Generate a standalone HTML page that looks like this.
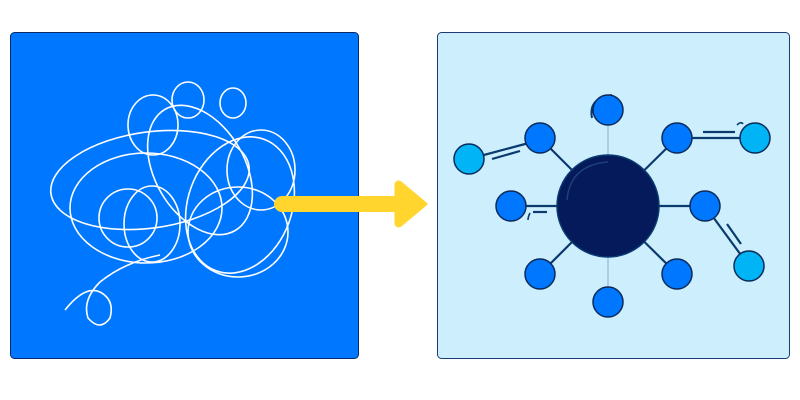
<!DOCTYPE html>
<html><head><style>html,body{margin:0;padding:0;background:#fff;width:800px;height:400px;overflow:hidden}</style></head>
<body>
<svg width="800" height="400" viewBox="0 0 800 400" xmlns="http://www.w3.org/2000/svg">
<rect x="10.5" y="32.5" width="348" height="326" rx="4" fill="#0077ff" stroke="#0a2a6a" stroke-width="1"/>
<rect x="437.5" y="32.5" width="352" height="326" rx="4" fill="#cdeefd" stroke="#1a3a7a" stroke-width="1"/>
<g fill="none" stroke="#fff" stroke-width="1.6">
<ellipse cx="153" cy="125" rx="25" ry="30"/>
<ellipse cx="188" cy="100" rx="16" ry="18"/>
<ellipse cx="233" cy="103" rx="13" ry="15"/>
<ellipse cx="150" cy="180" rx="100" ry="48" transform="rotate(-8 150 180)"/>
<ellipse cx="128" cy="218" rx="29" ry="29"/>
<ellipse cx="152" cy="224" rx="28" ry="38"/>
<ellipse cx="261" cy="170" rx="34" ry="40"/>
<ellipse cx="238" cy="232" rx="50" ry="45"/>
<ellipse cx="146" cy="208" rx="76" ry="55"/>
<ellipse cx="200" cy="170" rx="45" ry="70" transform="rotate(-30 200 170)"/>
<ellipse cx="240" cy="205" rx="52" ry="70" transform="rotate(20 240 205)"/>
<path d="M65 310 Q85 285 100 292 Q115 300 110 318 Q100 332 88 318 Q82 300 100 282 Q125 262 160 255"/>
</g>
<line x1="282" y1="204" x2="398" y2="204" stroke="#ffd52e" stroke-width="16" stroke-linecap="round"/>
<path d="M396 184 Q398 180 402 184 L426 204 L402 224 Q398 228 396 224 Z" fill="#ffd52e" stroke="#ffd52e" stroke-width="3" stroke-linejoin="round"/>
<g stroke="#0a3a6e" stroke-width="2.2">
<line x1="608" y1="206" x2="540" y2="138"/><line x1="608" y1="206" x2="677" y2="138"/>
<line x1="608" y1="206" x2="540" y2="274"/><line x1="608" y1="206" x2="677" y2="274"/>
<line x1="608" y1="206" x2="511" y2="206"/><line x1="608" y1="206" x2="705" y2="206"/>
<line x1="540" y1="140" x2="469" y2="159"/><line x1="492" y1="159" x2="520" y2="151"/>
<line x1="677" y1="138" x2="755" y2="138"/><line x1="703" y1="132" x2="735" y2="132"/>
<line x1="705" y1="206" x2="749" y2="266"/><line x1="727" y1="224" x2="741" y2="244"/>
<line x1="533" y1="212" x2="547" y2="212"/>
</g>
<g fill="none" stroke="#0a3a6e" stroke-width="1.6">
<path d="M737 125 Q741 121 743 124"/><path d="M530 213 Q528 217 528 220"/>
<path d="M592 118 Q588 98 612 95" stroke-width="2"/>
</g>
<g stroke="#8aaccc" stroke-width="1"><line x1="608" y1="110" x2="608" y2="302"/></g>
<circle cx="608" cy="206" r="51" fill="#041a5a" stroke="#0a3a6e" stroke-width="1.5"/>
<path d="M567 200 Q570 165 608 162" fill="none" stroke="#1d3f7a" stroke-width="1.5"/>
<g fill="#0077ff" stroke="#0a2a5a" stroke-width="1.5">
<circle cx="608" cy="110" r="15"/><circle cx="540" cy="138" r="15"/><circle cx="677" cy="138" r="15"/>
<circle cx="511" cy="206" r="15"/><circle cx="705" cy="206" r="15"/>
<circle cx="540" cy="274" r="15"/><circle cx="677" cy="274" r="15"/><circle cx="608" cy="302" r="15"/>
</g>
<g fill="#00b4f5" stroke="#0a2a5a" stroke-width="1.5">
<circle cx="469" cy="159" r="15"/><circle cx="755" cy="138" r="15"/><circle cx="749" cy="266" r="15"/>
</g>
</svg>
</body></html>
